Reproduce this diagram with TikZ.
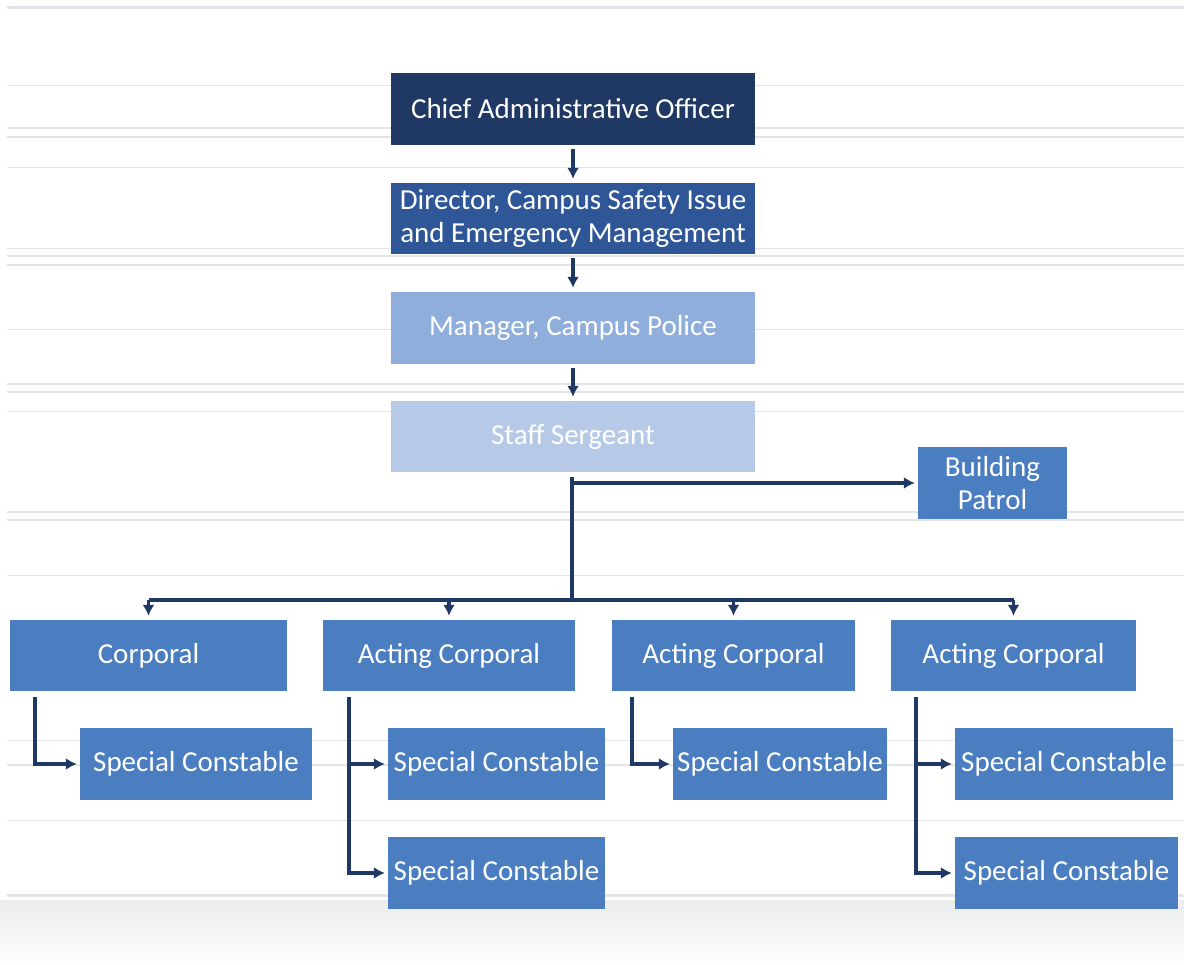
\documentclass[tikz,border=0pt]{standalone}
\usepackage{fontspec}
\setmainfont{Carlito}
\usetikzlibrary{arrows.meta}
\definecolor{navy}{RGB}{32,56,100}
\definecolor{dirblue}{RGB}{47,87,151}
\definecolor{mgrblue}{RGB}{143,174,219}
\definecolor{sgtblue}{RGB}{182,202,231}
\definecolor{unitblue}{RGB}{74,126,192}
\definecolor{linkcol}{RGB}{31,56,100}
\definecolor{rule}{RGB}{226,228,231}
\tikzset{
  box/.style={rectangle, inner sep=0pt, text=white, align=center,
    font=\fontsize{29}{33}\selectfont},
  link/.style={draw=linkcol, line width=3.5pt},
  arr/.style={link, -{Latex[length=11pt,width=12pt]}},
  bgrule/.style={draw=rule, line width=#1},
  bgrule/.default=1.2pt
}
\begin{document}
\begin{tikzpicture}[x=1pt,y=-1pt]
\useasboundingbox (0,0) rectangle (1184,965);
\fill[white] (0,0) rectangle (1184,965);
% faint ruled background
\shade[top color=rule!70, bottom color=white] (0,900) rectangle (1184,965);
\foreach \yy/\w in {8/3pt,86/1pt,128/2.5pt,137/2.5pt,168/1pt,249/1pt,256/2.5pt,265/2.5pt,
  330/1pt,384/2.5pt,392/2.5pt,412/1pt,512/2.5pt,520/2.5pt,575/1pt,740/1pt,765/2.5pt,
  820/1pt,895/3pt}
  \draw[bgrule=\w] (7,\yy) -- (1184,\yy);

% upper chain
\node[box, fill=navy, minimum width=364, minimum height=72] (cao) at (573,109) {Chief Administrative Officer};
\node[box, fill=dirblue, minimum width=364, minimum height=71] (dir) at (573,218.5) {Director, Campus Safety Issue\\and Emergency Management};
\node[box, fill=mgrblue, minimum width=364, minimum height=72] (mgr) at (573,328) {Manager, Campus Police};
\node[box, fill=sgtblue, minimum width=364, minimum height=71] (sgt) at (573,436.5) {Staff Sergeant};
\node[box, fill=unitblue, minimum width=149, minimum height=72] (pat) at (992.5,483) {Building\\Patrol};

% corporals
\node[box, fill=unitblue, minimum width=277, minimum height=71] (corp) at (148.5,655.5) {Corporal};
\node[box, fill=unitblue, minimum width=252, minimum height=71] (ac1) at (449,655.5) {Acting Corporal};
\node[box, fill=unitblue, minimum width=243, minimum height=71] (ac2) at (733.5,655.5) {Acting Corporal};
\node[box, fill=unitblue, minimum width=245, minimum height=71] (ac3) at (1013.5,655.5) {Acting Corporal};

% special constables
\node[box, fill=unitblue, minimum width=232, minimum height=72] (sc1) at (196,764) {Special Constable};
\node[box, fill=unitblue, minimum width=217, minimum height=72] (sc2) at (496.5,764) {Special Constable};
\node[box, fill=unitblue, minimum width=214, minimum height=72] (sc3) at (780,764) {Special Constable};
\node[box, fill=unitblue, minimum width=218, minimum height=72] (sc4) at (1064,764) {Special Constable};
\node[box, fill=unitblue, minimum width=217, minimum height=72] (sc5) at (496.5,873) {Special Constable};
\node[box, fill=unitblue, minimum width=223, minimum height=72] (sc6) at (1066.5,873) {Special Constable};

% connectors of the upper chain
\draw[arr, shorten <=4pt, shorten >=4pt] (cao) -- (dir);
\draw[arr, shorten <=4pt, shorten >=4pt] (dir) -- (mgr);
\draw[arr, shorten <=4pt, shorten >=4pt] (mgr) -- (sgt);

% trunk below the staff sergeant
\coordinate (bar) at (572,600);
\draw[link, shorten <=5pt] ([xshift=-1pt]sgt.south) -- ([xshift=-1pt]sgt.south |- bar);
\draw[arr, shorten >=3pt] ([xshift=-2.75pt]sgt.south |- pat.west) -- (pat.west);
\draw[link] (corp.north |- bar) -- (ac3.north |- bar);
\foreach \n in {corp,ac1,ac2,ac3}
  \draw[arr, shorten >=4pt] (\n.north |- bar) -- (\n.north);

% corporal to constables
\draw[arr, shorten >=3pt] ([xshift=25pt,yshift=-6pt]corp.south west) |- (sc1.west);
\draw[arr, shorten >=3pt] ([xshift=26pt,yshift=-6pt]ac1.south west) |- (sc5.west);
\draw[arr, shorten >=3pt] ([xshift=26pt]ac1.south west |- sc2.west) -- (sc2.west);
\draw[arr, shorten >=3pt] ([xshift=20pt,yshift=-6pt]ac2.south west) |- (sc3.west);
\draw[arr, shorten >=3pt] ([xshift=25pt,yshift=-6pt]ac3.south west) |- (sc6.west);
\draw[arr, shorten >=3pt] ([xshift=25pt]ac3.south west |- sc4.west) -- (sc4.west);
\end{tikzpicture}
\end{document}
